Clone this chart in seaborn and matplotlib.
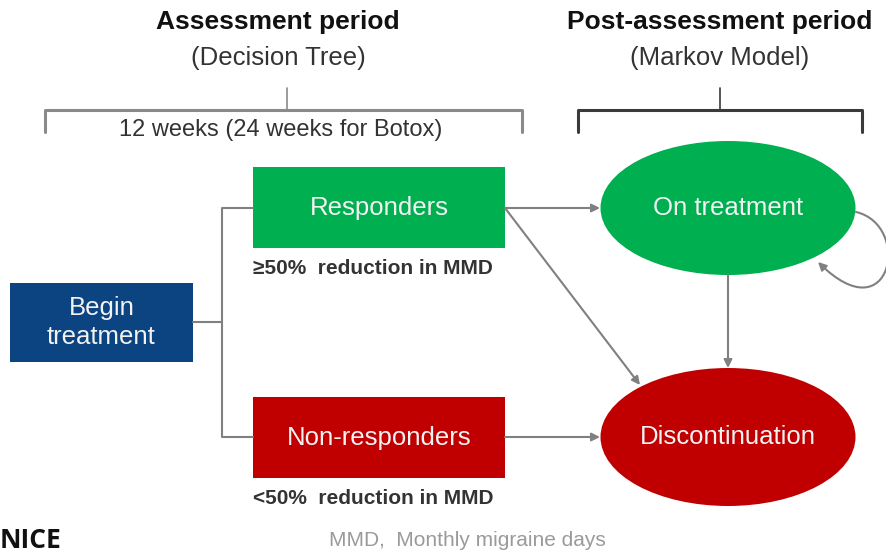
import matplotlib
matplotlib.use("Agg")
import matplotlib.pyplot as plt
from matplotlib.patches import Rectangle, Ellipse, FancyArrowPatch
from matplotlib.path import Path
import seaborn as sns

# Step 1: Diagram content
headers = ["Assessment period", "Post-assessment period"]
subheaders = ["(Decision Tree)", "(Markov Model)"]
duration_label = "12 weeks (24 weeks for Botox)"
box_labels = ["Begin\ntreatment", "Responders", "Non-responders"]
box_notes = ["", "\u226550%  reduction in MMD", "<50%  reduction in MMD"]
state_labels = ["On treatment", "Discontinuation"]
footnote = "MMD,  Monthly migraine days"
logo = "NICE"

# Step 2: Style
sns.set_theme(style="white")
plt.rcParams["font.family"] = ["Liberation Sans", "DejaVu Sans"]

blue = "#0B4480"
green = "#00B050"
red = "#C00000"
grey = "#808080"
dark = "#333333"

fig = plt.figure(figsize=(8.86, 5.57), dpi=100)
ax = fig.add_axes([0, 0, 1, 1])
ax.set_xlim(0, 886)
ax.set_ylim(557, 0)
ax.axis("off")

# Step 3: Headers and braces
for label, sub, cx in zip(headers, subheaders, [278, 720]):
    ax.text(cx, 22, label, ha="center", va="center", fontsize=19, fontweight="bold", color="#111111")
    ax.text(cx, 58, sub, ha="center", va="center", fontsize=18.5, color="#333333")


def brace(x0, x1, xm, col):
    ax.plot([x0, x0, x1, x1], [132, 110, 110, 132], color=col, lw=2.2, solid_joinstyle="round")
    ax.plot([xm, xm], [110, 88], color=col, lw=1.2)


brace(45, 522, 287, "#8a8a8a")
brace(578, 862, 720, "#3a3a3a")
ax.text(281, 130, duration_label, ha="center", va="center", fontsize=17, color=dark)

# Step 4: Decision tree boxes
boxes = [(10, 283, 183, 79, blue), (253, 167, 252, 81, green), (253, 397, 252, 81, red)]
for (x, y, w, h, c), label, note in zip(boxes, box_labels, box_notes):
    ax.add_patch(Rectangle((x, y), w, h, facecolor=c, edgecolor="none"))
    ax.text(x + w / 2, y + h / 2, label, ha="center", va="center", fontsize=18.5,
            color="#f2f2f2", linespacing=1.3)
    if note:
        ax.text(x, y + h + 20, note, ha="left", va="center", fontsize=15,
                fontweight="bold", color=dark)

# connectors from Begin treatment
ax.plot([193, 222], [322, 322], color=grey, lw=1.5)
ax.plot([253, 222, 222, 253], [208, 208, 437, 437], color=grey, lw=1.5)

# Step 5: Markov states
states = [(728, 208, 255, 134, green), (728, 437, 255, 138, red)]
for (cx, cy, w, h, c), label in zip(states, state_labels):
    ax.add_patch(Ellipse((cx, cy), w, h, facecolor=c, edgecolor="none"))
    ax.text(cx, cy, label, ha="center", va="center", fontsize=18.5, color="#f2f2f2")


def arrow(p0, p1):
    ax.add_patch(FancyArrowPatch(p0, p1, arrowstyle="-|>", mutation_scale=12,
                                 color=grey, lw=1.5, shrinkA=0, shrinkB=0))


arrow((505, 208), (600, 208))
arrow((505, 208), (640, 385))
arrow((728, 275), (728, 368))
arrow((505, 437), (600, 437))

# self-loop on "On treatment"
loop = Path([(856, 212), (912, 225), (892, 335), (818, 262)],
            [Path.MOVETO, Path.CURVE4, Path.CURVE4, Path.CURVE4])
ax.add_patch(FancyArrowPatch(path=loop, arrowstyle="-|>", mutation_scale=12,
                             color=grey, lw=1.5))

# Step 6: Footer
ax.text(0, 540, logo, ha="left", va="center", fontsize=19, fontweight="bold",
        color="#111111", family=["Open Sans", "DejaVu Sans"])
ax.text(467, 540, footnote, ha="center", va="center", fontsize=15, color="#9a9a9a")

fig.savefig("out.png", dpi=100)
